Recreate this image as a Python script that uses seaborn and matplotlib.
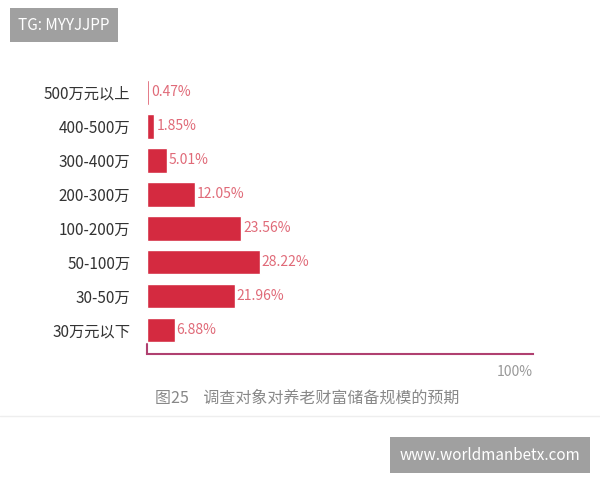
import matplotlib
matplotlib.use("Agg")
import matplotlib.pyplot as plt
import seaborn as sns
import pandas as pd

categories = ['500万元以上', '400-500万', '300-400万', '200-300万',
              '100-200万', '50-100万', '30-50万', '30万元以下']
values = [0.47, 1.85, 5.01, 12.05, 23.56, 28.22, 21.96, 6.88]

sns.set_theme(style='white')
plt.rcParams['font.family'] = ['Noto Sans CJK SC', 'DejaVu Sans']

df = pd.DataFrame({'cat': categories, 'val': values})

fig = plt.figure(figsize=(6, 4.8), dpi=100)
ax = fig.add_axes([147 / 600, 1 - 354 / 480, 386 / 600, 282 / 480])
sns.barplot(data=df, x='val', y='cat', color='#d42a40', width=0.72,
            saturation=1, ax=ax)
ax.set_xlim(0, 96.5)
ax.set_ylim(7.7, -0.6)
ax.set_xlabel('')
ax.set_ylabel('')
ax.set_xticks([])
ax.tick_params(axis='y', length=0, labelsize=11, labelcolor='#333333', pad=12)
for s in ['top', 'right', 'left']:
    ax.spines[s].set_visible(False)
ax.spines['bottom'].set_color('#b04070')
ax.spines['bottom'].set_linewidth(1.5)
ax.plot([0, 0], [7.7, 7.4], color='#b04070', lw=1.5, clip_on=False)

for i, v in enumerate(values):
    ax.text(v + 0.5, i, f'{v:.2f}%', va='center', ha='left',
            fontsize=10, color='#e06a78')

fig.text(515 / 600, 1 - 372 / 480, '100%', ha='center', va='center',
         fontsize=10, color='#999999')
fig.text(155 / 600, 1 - 398 / 480, '图25    调查对象对养老财富储备规模的预期',
         ha='left', va='center', fontsize=11.5, color='#888888')
fig.add_artist(plt.Line2D([0, 1], [1 - 416 / 480] * 2, color='#eeeeee', lw=1))

fig.text(18 / 600, 1 - 25 / 480, 'TG: MYYJJPP', ha='left', va='center',
         fontsize=11, color='white',
         bbox=dict(facecolor='#a0a0a0', edgecolor='none', pad=6))
fig.text(490 / 600, 1 - 455 / 480, 'www.worldmanbetx.com', ha='center',
         va='center', fontsize=11, color='white',
         bbox=dict(facecolor='#a0a0a0', edgecolor='none', pad=7))

fig.savefig('out.png', dpi=100)
